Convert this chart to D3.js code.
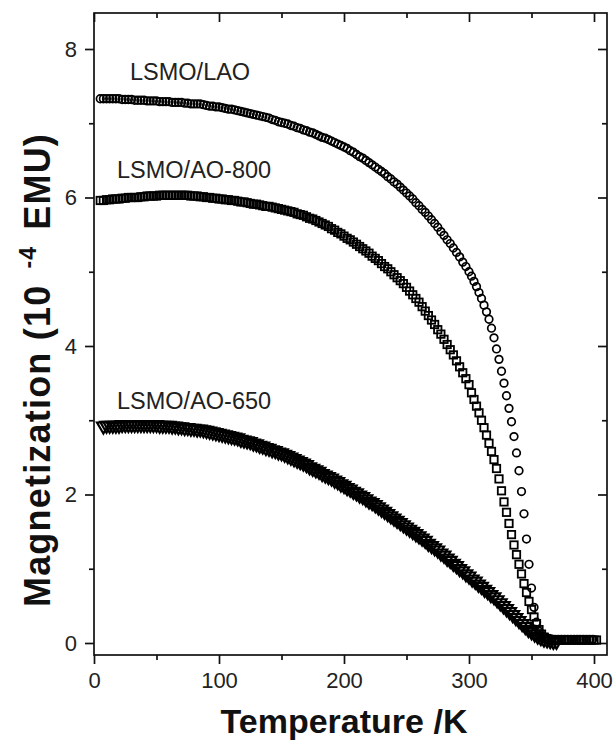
<!DOCTYPE html>
<html><head><meta charset="utf-8">
<script src="https://cdn.jsdelivr.net/npm/d3@7"></script>
<style>body{margin:0;background:#fff}svg{display:block}text{font-family:"Liberation Sans",Arial,Helvetica,sans-serif}</style>
</head><body>
<svg id="c" width="616" height="749"></svg>
<script>
// ---- data ----
const laoT = [5,7.5,10,12.5,15,17.5,20,22.5,25,27.5,30,32.5,35,37.5,40,42.5,45,47.5,50,52.5,55,57.5,60,62.5,65,67.5,70,72.5,75,77.5,80,82.5,85,87.5,90,92.5,95,97.5,100,102.5,105,107.5,110,112.5,115,117.5,120,122.5,125,127.5,130,132.5,135,137.5,140,142.5,145,147.5,150,152.5,155,157.5,160,162.5,165,167.5,170,172.5,175,177.5,180,182.5,185,187.5,190,192.5,195,197.5,200,202.5,205,207.5,210,212.5,215,217.5,220,222.5,225,227.5,230,232.5,235,237.5,240,242.5,245,247.5,250,252.5,255,257.5,260,262.5,265,267.5,270,272.5,275,277.5,280,282.5,285,287.5,290,292.5,295,297.5,300,302,304,306,308,310,312,314,316,318,320,322,324,326,328,330,332,334,336,338,340,342,344,346,348,350,352,354,356,358,360,362,364,366.5,369,371.5,374,376.5,379,381.5,384,386.5,389,391.5,394,396.5,399];
const laoM = [7.33,7.33,7.33,7.33,7.33,7.33,7.33,7.32,7.32,7.32,7.32,7.31,7.31,7.31,7.31,7.30,7.30,7.30,7.30,7.29,7.29,7.29,7.29,7.28,7.28,7.28,7.28,7.27,7.27,7.26,7.26,7.26,7.26,7.25,7.24,7.23,7.23,7.22,7.22,7.21,7.20,7.19,7.19,7.18,7.17,7.16,7.15,7.14,7.13,7.12,7.11,7.10,7.09,7.08,7.07,7.05,7.04,7.02,7.01,7.00,6.99,6.97,6.96,6.94,6.93,6.91,6.90,6.88,6.87,6.85,6.83,6.81,6.80,6.78,6.76,6.74,6.72,6.70,6.68,6.66,6.63,6.61,6.58,6.55,6.53,6.50,6.47,6.44,6.41,6.38,6.35,6.32,6.28,6.25,6.21,6.18,6.14,6.10,6.06,6.02,5.98,5.93,5.89,5.84,5.80,5.75,5.70,5.65,5.60,5.54,5.49,5.43,5.38,5.32,5.26,5.20,5.13,5.07,5.00,4.94,4.87,4.80,4.72,4.64,4.55,4.46,4.36,4.24,4.11,3.96,3.82,3.66,3.50,3.33,3.16,2.98,2.78,2.56,2.32,2.04,1.74,1.40,1.06,0.74,0.48,0.28,0.16,0.09,0.06,0.05,0.05,0.05,0.05,0.05,0.05,0.05,0.05,0.05,0.05,0.05,0.05,0.05,0.05,0.05,0.05];

const ao800T = [5,7.5,10,12.5,15,17.5,20,22.5,25,27.5,30,32.5,35,37.5,40,42.5,45,47.5,50,52.5,55,57.5,60,62.5,65,67.5,70,72.5,75,77.5,80,82.5,85,87.5,90,92.5,95,97.5,100,102.5,105,107.5,110,112.5,115,117.5,120,122.5,125,127.5,130,132.5,135,137.5,140,142.5,145,147.5,150,152.5,155,157.5,160,162.5,165,167.5,170,172.5,175,177.5,180,182.5,185,187.5,190,192.5,195,197.5,200,202.5,205,207.5,210,212.5,215,217.5,220,222.5,225,227.5,230,232.5,235,237.5,240,242.5,245,247.5,250,252.5,255,257.5,260,262.5,265,267.5,270,272.5,275,277.5,280,282.5,285,287.5,290,292.5,295,297.5,300,302,304,306,308,310,312,314,316,318,320,322,324,326,328,330,332,334,336,338,340,342,344,346,348,350,352,354,356,358,360,362,364,366,368,370,372,374,376,378,380,382,384,386,388,390,392,394,396,398,400,402];
const ao800M = [5.96,5.96,5.97,5.97,5.98,5.98,5.98,5.99,5.99,6.00,6.00,6.00,6.00,6.01,6.01,6.02,6.02,6.02,6.02,6.03,6.03,6.03,6.03,6.03,6.03,6.03,6.03,6.03,6.03,6.02,6.02,6.02,6.01,6.01,6.00,6.00,5.99,5.99,5.98,5.98,5.97,5.97,5.96,5.96,5.95,5.94,5.94,5.93,5.92,5.91,5.91,5.90,5.89,5.88,5.88,5.87,5.86,5.85,5.84,5.83,5.82,5.81,5.80,5.78,5.77,5.76,5.74,5.72,5.71,5.69,5.67,5.65,5.63,5.61,5.58,5.56,5.53,5.51,5.48,5.45,5.43,5.40,5.37,5.34,5.31,5.28,5.25,5.21,5.18,5.15,5.11,5.07,5.04,5.00,4.96,4.92,4.88,4.84,4.79,4.74,4.69,4.64,4.59,4.53,4.47,4.41,4.35,4.29,4.22,4.16,4.09,4.02,3.95,3.88,3.80,3.72,3.64,3.56,3.48,3.37,3.28,3.19,3.10,3.00,2.90,2.80,2.69,2.58,2.47,2.35,2.21,2.05,1.90,1.76,1.61,1.46,1.32,1.19,1.06,0.93,0.80,0.68,0.56,0.45,0.35,0.26,0.18,0.12,0.08,0.06,0.05,0.04,0.04,0.04,0.04,0.04,0.04,0.04,0.04,0.04,0.04,0.04,0.04,0.04,0.04,0.04,0.04,0.04,0.04,0.04];

const ao650T = [7.5,10,12.5,15,17.5,20,22.5,25,27.5,30,32.5,35,37.5,40,42.5,45,47.5,50,52.5,55,57.5,60,62.5,65,67.5,70,72.5,75,77.5,80,82.5,85,87.5,90,92.5,95,97.5,100,102.5,105,107.5,110,112.5,115,117.5,120,122.5,125,127.5,130,132.5,135,137.5,140,142.5,145,147.5,150,152.5,155,157.5,160,162.5,165,167.5,170,172.5,175,177.5,180,182.5,185,187.5,190,192.5,195,197.5,200,202.5,205,207.5,210,212.5,215,217.5,220,222.5,225,227.5,230,232.5,235,237.5,240,242.5,245,247.5,250,252.5,255,257.5,260,262.5,265,267.5,270,272.5,275,277.5,280,282.5,285,287.5,290,292.5,295,297.5,300,302.5,305,307.5,310,312.5,315,317.5,320,322.5,325,327.5,330,332.5,335,337.5,340,342.5,345,347.5,350,352.5,355,357.5,360,362.5,365,367.5,370];
const ao650M = [2.92,2.93,2.93,2.93,2.93,2.93,2.94,2.94,2.94,2.94,2.94,2.94,2.94,2.94,2.94,2.94,2.94,2.94,2.93,2.93,2.93,2.93,2.92,2.92,2.91,2.91,2.90,2.90,2.89,2.89,2.88,2.88,2.87,2.86,2.85,2.84,2.83,2.82,2.81,2.80,2.79,2.78,2.77,2.76,2.74,2.73,2.72,2.71,2.69,2.68,2.66,2.65,2.63,2.62,2.60,2.59,2.57,2.56,2.54,2.52,2.50,2.48,2.46,2.44,2.42,2.40,2.37,2.35,2.33,2.31,2.28,2.26,2.24,2.22,2.19,2.17,2.14,2.12,2.09,2.07,2.04,2.02,1.99,1.97,1.94,1.91,1.89,1.86,1.83,1.80,1.77,1.74,1.71,1.68,1.65,1.62,1.59,1.56,1.53,1.50,1.47,1.44,1.41,1.38,1.34,1.31,1.28,1.25,1.21,1.18,1.14,1.11,1.07,1.04,1.00,0.97,0.93,0.90,0.86,0.83,0.79,0.76,0.72,0.69,0.65,0.62,0.58,0.54,0.50,0.46,0.42,0.38,0.34,0.30,0.26,0.22,0.18,0.15,0.12,0.09,0.07,0.05,0.04,0.03,0.02,0.02];

const seriesNames = ["LSMO/LAO","LSMO/AO-800","LSMO/AO-650"];
const xTicks = [0,100,200,300,400];
const xMinor = [50,150,250,350];
const yTicks = [0,2,4,6,8];
const yMinor = [1,3,5,7];
const xLabel = "Temperature /K";

// ---- layout ----
const svg = d3.select("#c");
const L = 94, R = 607, T = 13, B = 655;
const x = d3.scaleLinear().domain([0,400]).range([94,594]);
const y = d3.scaleLinear().domain([0,8]).range([643,49]);
const ink = "#111";

const g = svg.append("g");
g.append("rect").attr("x",L).attr("y",T).attr("width",R-L).attr("height",B-T)
 .attr("fill","none").attr("stroke",ink).attr("stroke-width",1.7);

function tk(sel, axis){ sel.call(axis); sel.select(".domain").remove(); sel.selectAll("line").attr("stroke",ink).attr("stroke-width",1.7); }
const tf = d3.format("d");
g.append("g").attr("transform",`translate(0,${B})`).call(s=>tk(s,d3.axisBottom(x).tickValues(xTicks).tickSize(9).tickPadding(8).tickFormat(tf)))
 .selectAll("text").attr("font-size",22).attr("fill","#222").attr("font-family","Liberation Sans, Arial, sans-serif");
g.append("g").attr("transform",`translate(0,${B})`).call(s=>tk(s,d3.axisBottom(x).tickValues(xMinor).tickSize(5).tickFormat("")));
g.append("g").attr("transform",`translate(0,${T})`).call(s=>tk(s,d3.axisBottom(x).tickValues(xTicks).tickSize(9).tickFormat("")));
g.append("g").attr("transform",`translate(0,${T})`).call(s=>tk(s,d3.axisBottom(x).tickValues(xMinor).tickSize(5).tickFormat("")));
g.append("g").attr("transform",`translate(${L},0)`).call(s=>tk(s,d3.axisLeft(y).tickValues(yTicks).tickSize(9).tickPadding(8).tickFormat(tf)))
 .selectAll("text").attr("font-size",22).attr("fill","#222").attr("font-family","Liberation Sans, Arial, sans-serif");
g.append("g").attr("transform",`translate(${L},0)`).call(s=>tk(s,d3.axisLeft(y).tickValues(yMinor).tickSize(5).tickFormat("")));
g.append("g").attr("transform",`translate(${R},0)`).call(s=>tk(s,d3.axisLeft(y).tickValues(yTicks).tickSize(9).tickFormat("")));
g.append("g").attr("transform",`translate(${R},0)`).call(s=>tk(s,d3.axisLeft(y).tickValues(yMinor).tickSize(5).tickFormat("")));

// ---- data marks ----
const pairs = (ts, ms) => ts.map((t,i)=>({t,m:ms[i]})).filter(d=>d.m!==undefined);
const lao = pairs(laoT, laoM);
const a800 = pairs(ao800T, ao800M);
const a650 = pairs(ao650T, ao650M);

g.append("g").selectAll("path").data(a650).join("path")
 .attr("d",d3.symbol(d3.symbolTriangle,70)())
 .attr("transform",d=>`translate(${x(d.t)},${y(d.m)}) rotate(180)`)
 .attr("fill","none").attr("stroke","#000").attr("stroke-width",2.2);
g.append("g").selectAll("rect").data(a800).join("rect")
 .attr("x",d=>x(d.t)-3.7).attr("y",d=>y(d.m)-3.7).attr("width",7.4).attr("height",7.4)
 .attr("fill","none").attr("stroke","#000").attr("stroke-width",1.8);
g.append("g").selectAll("circle").data(lao).join("circle")
 .attr("cx",d=>x(d.t)).attr("cy",d=>y(d.m)).attr("r",3.8)
 .attr("fill","none").attr("stroke","#000").attr("stroke-width",1.7);

// ---- series labels ----
const labPos = [[130,80],[117,178],[117,409]];
seriesNames.forEach((n,i)=>{
  g.append("text").attr("x",labPos[i][0]).attr("y",labPos[i][1]).attr("font-size",23.5).attr("fill","#222").text(n);
});

// ---- axis titles ----
svg.append("text").attr("x",344).attr("y",733).attr("text-anchor","middle")
 .attr("font-size",34).attr("font-weight","bold").attr("fill","#111").text(xLabel);
const yl = svg.append("text").attr("transform","translate(50,370) rotate(-90)").attr("text-anchor","middle")
 .attr("font-size",36).attr("font-weight","bold").attr("fill","#111").attr("letter-spacing",1.2);
yl.append("tspan").text("Magnetization (10");
yl.append("tspan").attr("dx",16).attr("dy",-14).attr("font-size",23).text("-4");
yl.append("tspan").attr("dx",16).attr("dy",14).text("EMU)");
</script>
</body></html>
